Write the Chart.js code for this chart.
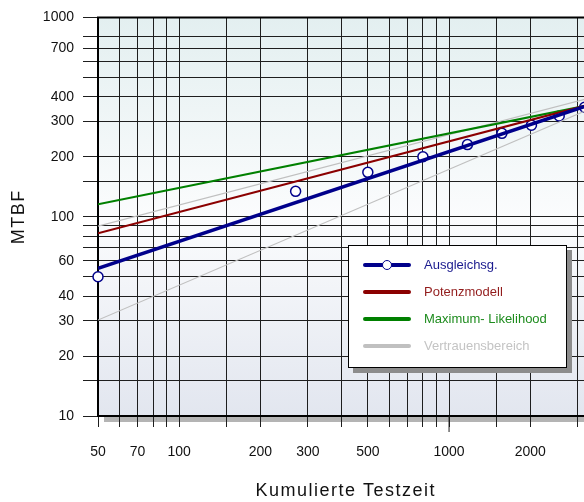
<!DOCTYPE html>
<html>
<head>
<meta charset="utf-8">
<script src="https://cdn.jsdelivr.net/npm/chart.js@4.4.1/dist/chart.umd.min.js"></script>
<style>
  html, body { margin: 0; padding: 0; overflow: hidden; background: #fff; }
  #wrap { position: relative; width: 600px; height: 502px; }
  #legend {
    position: absolute; left: 348px; top: 245px; width: 217px; height: 121px;
    background: #fff; border: 1.5px solid #000; box-shadow: 5px 5px 0 #8c8c8c;
    font-family: "Liberation Sans", Arial, sans-serif; font-size: 13px;
  }
  .row { position: absolute; left: 0; width: 100%; height: 20px; }
  .swatch { position: absolute; left: 14px; top: 8px; width: 48px; height: 4px; border-radius: 2px; }
  .dot { position: absolute; left: 33px; top: 5px; width: 8px; height: 8px; border-radius: 50%; background: #fff; }
  .text { position: absolute; left: 75px; top: 2px; white-space: nowrap; }
</style>
</head>
<body>
<div id="wrap">
  <canvas id="chart" width="600" height="502"></canvas>
  <div id="legend"></div>
</div>
<script>
const FONT = '"Liberation Sans", Arial, sans-serif';

// measured points (Kumulierte Testzeit, MTBF)
const testTime = [50, 270, 500, 800, 1170, 1570, 2020, 2560, 3180];
const mtbf = [50, 134, 167, 200, 230, 262, 288, 320, 354];

// fitted lines, given at the two ends of the axis
const lineX = [50, 3650];
const ausgleich = [55, 380];
const potenz = [82.6, 378];
const maxLikelihood = [115.5, 373];
const vertrauenOben = [89.6, 407];
const vertrauenUnten = [30.3, 367];

// grid and labels
const xGrid = [50, 60, 70, 80, 90, 100, 150, 200, 300, 400, 500, 600, 700, 800, 900, 1000, 1500, 2000, 3000];
const xLabels = [50, 70, 100, 200, 300, 500, 1000, 2000];
const yGrid = [10, 15, 20, 30, 40, 50, 60, 70, 80, 90, 100, 150, 200, 300, 400, 500, 600, 700, 800, 1000];
const yLabels = [10, 20, 30, 40, 60, 100, 200, 300, 400, 700, 1000];

const pts = (xs, ys) => xs.map((x, i) => ({ x: x, y: ys[i] }));

const plotBackground = {
  id: 'plotBackground',
  beforeDraw(chart) {
    const { ctx, chartArea: { left, top, right, bottom } } = chart;
    ctx.save();
    ctx.fillStyle = '#b4b4b4';
    ctx.fillRect(left + 6, top + 6, right - left, bottom - top);
    const g = ctx.createLinearGradient(0, top, 0, bottom);
    g.addColorStop(0, '#e3eff0');
    g.addColorStop(0.5, '#fbfcfd');
    g.addColorStop(1, '#e2e6ef');
    ctx.fillStyle = g;
    ctx.fillRect(left, top, right - left, bottom - top);
    ctx.restore();
  },
  beforeDatasetsDraw(chart) {
    const { ctx, chartArea: { left, top, right, bottom } } = chart;
    ctx.save();
    ctx.strokeStyle = '#000';
    ctx.lineWidth = 2;
    ctx.beginPath();
    ctx.moveTo(right, top);
    ctx.lineTo(left, top);
    ctx.lineTo(left, bottom);
    ctx.lineTo(right, bottom);
    ctx.stroke();
    // longer tick at 1000
    const x1000 = chart.scales.x.getPixelForValue(1000);
    ctx.lineWidth = 1;
    ctx.strokeStyle = '#1e1e1e';
    ctx.beginPath();
    ctx.moveTo(x1000, bottom);
    ctx.lineTo(x1000, bottom + 16);
    ctx.stroke();
    ctx.restore();
  },
  afterLayout(chart) {
    Object.values(chart.scales).forEach(s => {
      if (s._spaced) return;
      const orig = s.drawTitle;
      s.drawTitle = function () {
        this.ctx.save();
        this.ctx.letterSpacing = '1.5px';
        orig.call(this);
        this.ctx.restore();
      };
      s._spaced = true;
    });
  }
};

const chart = new Chart(document.getElementById('chart').getContext('2d'), {
  type: 'line',
  data: {
    datasets: [
      {
        label: 'Ausgleichsg.', data: pts(lineX, ausgleich),
        borderColor: '#00008b', borderWidth: 3.5, pointRadius: 0, legendMarker: true, textColor: '#1a1a8e'
      },
      {
        label: 'Potenzmodell', data: pts(lineX, potenz),
        borderColor: '#8b0000', borderWidth: 2, pointRadius: 0, textColor: '#921c1c'
      },
      {
        label: 'Maximum- Likelihood', data: pts(lineX, maxLikelihood),
        borderColor: '#008000', borderWidth: 2, pointRadius: 0, textColor: '#1e8c1e'
      },
      {
        label: 'Vertrauensbereich', data: pts(lineX, vertrauenOben),
        borderColor: '#c0c0c0', borderWidth: 1.2, pointRadius: 0, textColor: '#c4c4c4'
      },
      {
        label: 'Vertrauensbereich', data: pts(lineX, vertrauenUnten),
        borderColor: '#c0c0c0', borderWidth: 1.2, pointRadius: 0, hideInLegend: true
      },
      {
        label: 'Messpunkte', data: pts(testTime, mtbf), showLine: false,
        pointRadius: 5, pointBackgroundColor: '#fff', pointBorderColor: '#00008b',
        pointBorderWidth: 1.5, clip: false, hideInLegend: true
      }
    ]
  },
  options: {
    responsive: false,
    animation: false,
    layout: { padding: { top: 17, right: 0, bottom: 0, left: 0 } },
    plugins: { legend: { display: false }, tooltip: { enabled: false } },
    scales: {
      x: {
        type: 'logarithmic', min: 50, max: 3430,
        afterBuildTicks: s => { s.ticks = xGrid.map(v => ({ value: v })); },
        afterFit: s => { s.height = 86; },
        grid: { color: '#1e1e1e', lineWidth: 1, tickLength: 11 },
        border: { display: false },
        ticks: {
          autoSkip: false, maxRotation: 0, minRotation: 0, padding: 17, color: '#111',
          font: { size: 14, family: FONT },
          callback: v => xLabels.includes(v) ? String(v) : ''
        },
        title: {
          display: true, text: 'Kumulierte Testzeit', color: '#111',
          font: { size: 18, family: FONT }, padding: { top: 0, bottom: 0 }
        }
      },
      y: {
        type: 'logarithmic', min: 10, max: 1000,
        afterBuildTicks: s => { s.ticks = yGrid.map(v => ({ value: v })); },
        afterFit: s => { s.width = 98; },
        grid: { color: '#1e1e1e', lineWidth: 1, tickLength: 15 },
        border: { display: false },
        ticks: {
          autoSkip: false, padding: 9, color: '#111',
          font: { size: 14, family: FONT },
          callback: v => yLabels.includes(v) ? String(v) : ''
        },
        title: {
          display: true, text: 'MTBF', color: '#111',
          font: { size: 18, family: FONT }, padding: { top: 8, bottom: 0 }
        }
      }
    }
  },
  plugins: [plotBackground]
});

// legend built from the datasets
const legend = document.getElementById('legend');
let row = 0;
chart.data.datasets.forEach(ds => {
  if (ds.hideInLegend) return;
  const r = document.createElement('div');
  r.className = 'row';
  r.style.top = (9 + row * 27) + 'px';
  const sw = document.createElement('div');
  sw.className = 'swatch';
  sw.style.background = ds.borderColor;
  r.appendChild(sw);
  if (ds.legendMarker) {
    const d = document.createElement('div');
    d.className = 'dot';
    d.style.border = '1.5px solid ' + ds.borderColor;
    r.appendChild(d);
  }
  const t = document.createElement('div');
  t.className = 'text';
  t.style.color = ds.textColor;
  t.textContent = ds.label;
  r.appendChild(t);
  legend.appendChild(r);
  row++;
});
</script>
</body>
</html>
